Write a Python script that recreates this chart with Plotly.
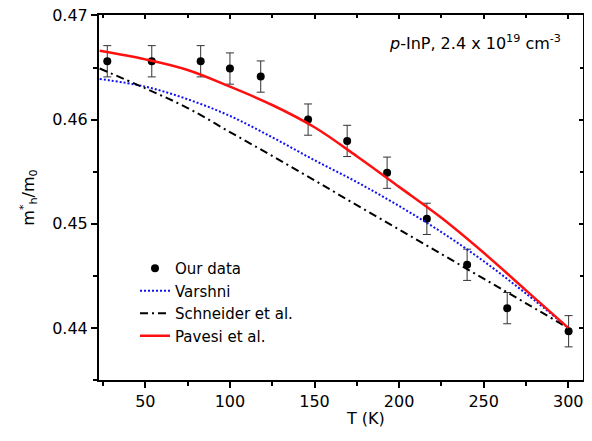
import plotly.graph_objects as go

# Measured data (Our data)
T_data = [27.5, 53.8, 82.7, 100, 118.2, 146.2, 169.3, 192.9, 216.4, 240.2, 263.9, 300.2]
m_data = [0.4656, 0.4656, 0.4656, 0.4649, 0.46413, 0.4600, 0.45795, 0.4549, 0.45047, 0.44606, 0.4419, 0.43968]
m_err = [0.0015] * 12

# Model curves
T_curve = [23, 50, 75, 100, 125, 150, 175, 200, 225, 250, 275, 300]
varshni = [0.4639, 0.46316, 0.46195, 0.46035, 0.4583, 0.4561, 0.4540, 0.4517, 0.4492, 0.4464, 0.4433, 0.4400]
schneider = [0.4649, 0.4630, 0.46111, 0.45880, 0.45651, 0.45417, 0.45178, 0.44945, 0.44709, 0.44473, 0.44236, 0.4400]
pavesi = [0.4666, 0.46578, 0.46476, 0.46316, 0.4614, 0.45926, 0.45648, 0.45354, 0.45057, 0.44721, 0.44361, 0.4400]

x_ticks = [50, 100, 150, 200, 250, 300]
y_ticks = [0.44, 0.45, 0.46, 0.47]
y_tick_text = ["0.44", "0.45", "0.46", "0.47"]

FONT = "DejaVu Sans"
XR = [22.6, 308.7]
YR = [0.435, 0.47004]

fig = go.Figure()

fig.add_trace(go.Scatter(
    x=T_data, y=m_data, mode="markers", name="Our data",
    marker=dict(color="black", size=8, symbol="circle"),
    error_y=dict(type="data", array=m_err, visible=True, color="#333333", thickness=1, width=4),
))
fig.add_trace(go.Scatter(
    x=T_curve, y=varshni, mode="lines", name="Varshni", line_shape="spline",
    line=dict(color="#1010f0", width=2, dash="2px,2px"),
))
fig.add_trace(go.Scatter(
    x=T_curve, y=schneider, mode="lines", name="Schneider et al.", line_shape="spline",
    line=dict(color="black", width=2, dash="8px,4px,2px,4px"),
))
fig.add_trace(go.Scatter(
    x=T_curve, y=pavesi, mode="lines", name="Pavesi et al.", line_shape="spline",
    line=dict(color="#ff1010", width=2.5),
))
# invisible trace to anchor the mirror (top/right) axes
fig.add_trace(go.Scatter(
    x=T_data, y=m_data, xaxis="x2", yaxis="y2", mode="markers",
    marker=dict(opacity=0), showlegend=False, hoverinfo="skip",
))

# page has an 8px body margin, so the figure is 8px smaller on each axis
fig.update_layout(
    width=584, height=433,
    margin=dict(l=91, r=9, t=7, b=61, autoexpand=False),
    paper_bgcolor="white", plot_bgcolor="white",
    font=dict(family=FONT, size=16, color="black"),
    showlegend=True,
    legend=dict(
        x=(135 - 99) / 484, y=(380 - 252) / 365, xanchor="left", yanchor="top",
        bgcolor="rgba(0,0,0,0)", borderwidth=0, font=dict(size=15),
        tracegroupgap=0,
    ),
    xaxis=dict(
        range=XR, showgrid=False, zeroline=False, automargin=False,
        showline=True, linecolor="black", linewidth=2, ticklabeloverflow="allow",
        ticks="outside", ticklen=6, tickwidth=2, tickcolor="black",
        tickvals=x_ticks,
        minor=dict(dtick=25, tick0=25, ticks="outside", ticklen=4, tickwidth=2, tickcolor="black"),
    ),
    yaxis=dict(
        range=YR, showgrid=False, zeroline=False, automargin=False,
        showline=True, linecolor="black", linewidth=2, ticklabeloverflow="allow",
        ticks="outside", ticklen=6, tickwidth=2, tickcolor="black",
        tickvals=y_ticks, ticktext=y_tick_text,
        minor=dict(dtick=0.005, tick0=0.435, ticks="outside", ticklen=4, tickwidth=2, tickcolor="black"),
        title=dict(text="m<sup>*</sup><sub>h</sub>/m<sub>0</sub>", font=dict(size=16), standoff=14),
    ),
    xaxis2=dict(
        range=XR, overlaying="x", side="top", anchor="y", automargin=False,
        showgrid=False, zeroline=False, showticklabels=False,
        showline=True, linecolor="black", linewidth=2,
        ticks="inside", ticklen=4, tickwidth=1.5, tickcolor="black", tickvals=x_ticks,
        minor=dict(dtick=25, tick0=25, ticks="inside", ticklen=3, tickwidth=1.5, tickcolor="black"),
    ),
    yaxis2=dict(
        range=YR, overlaying="y", side="right", anchor="x", automargin=False,
        showgrid=False, zeroline=False, showticklabels=False,
        showline=True, linecolor="black", linewidth=2,
        ticks="inside", ticklen=4, tickwidth=1.5, tickcolor="black", tickvals=y_ticks,
        minor=dict(dtick=0.005, tick0=0.435, ticks="inside", ticklen=3, tickwidth=1.5, tickcolor="black"),
    ),
    annotations=[
        dict(text="<i>p</i>-InP, 2.4 x 10<sup>19</sup> cm<sup>-3</sup>",
             xref="paper", yref="paper", x=(563 - 99) / 484, y=(380 - 42) / 365,
             xanchor="right", yanchor="middle", showarrow=False, font=dict(size=16)),
        dict(text="T (K)", xref="paper", yref="paper", x=(365 - 99) / 484, y=-(419 - 380) / 365,
             xanchor="center", yanchor="middle", showarrow=False, font=dict(size=16)),
    ],
)

fig.write_html("out.html")
